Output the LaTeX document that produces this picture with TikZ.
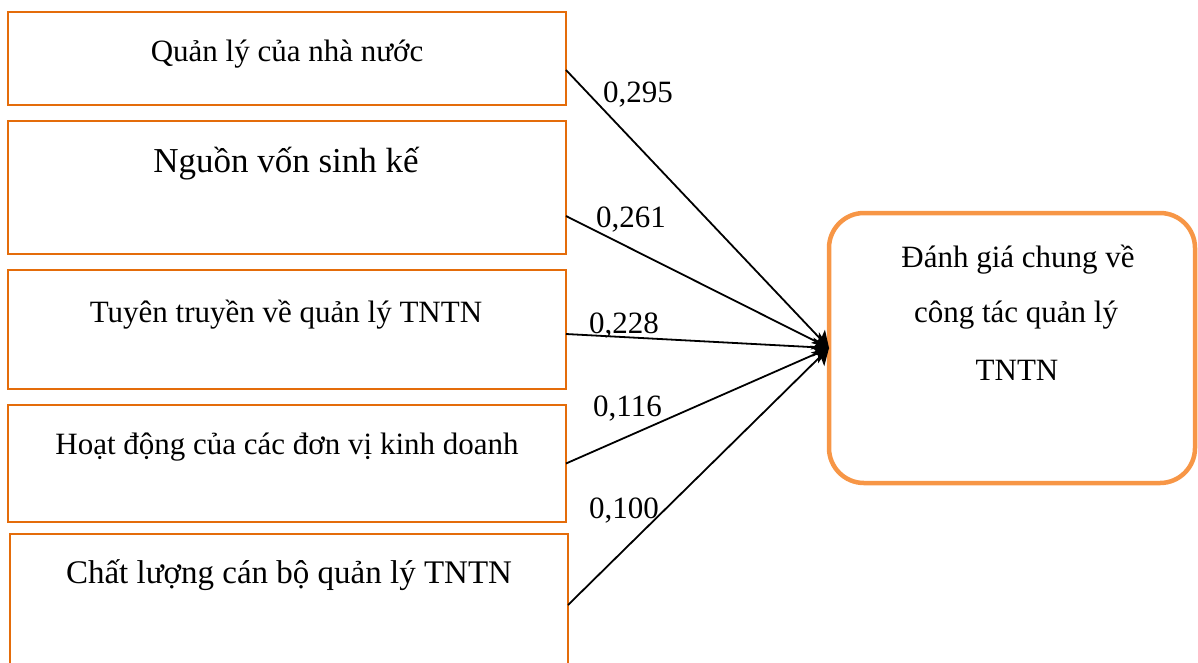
\documentclass[tikz,border=0pt]{standalone}
\usepackage{fontspec}
\setmainfont{Liberation Serif}
\usetikzlibrary{arrows.meta}
\definecolor{boxor}{HTML}{E46C0A}
\definecolor{tgtor}{HTML}{F79646}
\begin{document}
\begin{tikzpicture}[x=1pt,y=-1pt,
  factor/.style={draw=boxor,line width=2pt,rectangle,minimum width=558pt,inner sep=0pt,outer sep=0pt,anchor=north west},
  target/.style={draw=tgtor,line width=4.5pt,rectangle,rounded corners=35pt,minimum width=366pt,minimum height=270pt,inner sep=0pt,outer sep=0pt},
  txt/.style={inner sep=0pt,anchor=base,font=\fontsize{31}{37}\selectfont},
  coef/.style={inner sep=0pt,anchor=base west,font=\fontsize{31}{37}\selectfont},
  link/.style={line width=1.8pt,-{Stealth[length=16pt,width=19pt,inset=4pt]}}]
\useasboundingbox (0,0) rectangle (1198,662);
% factor boxes
\node[factor,minimum height=93pt]  (b1) at (8,12) {};
\node[factor,minimum height=133pt] (b2) at (8,121) {};
\node[factor,minimum height=119pt] (b3) at (8,270) {};
\node[factor,minimum height=117pt] (b4) at (8,405) {};
\node[factor,minimum height=142pt] (b5) at (10,534) {};
% target box
\node[target] (t) at (1012,348) {};
% texts in factor boxes
\node[txt] (tx1) at (287,61) {Quản lý của nhà nước};
\node[txt,font=\fontsize{35}{42}\selectfont] (tx2) at (286,172) {Nguồn vốn sinh kế};
\node[txt] (tx3) at (286,322) {Tuyên truyền về quản lý TNTN};
\node[txt] (tx4) at (287,454) {Hoạt động của các đơn vị kinh doanh};
\node[txt,font=\fontsize{33}{40}\selectfont] (tx5) at (289,583) {Chất lượng cán bộ quản lý TNTN};
% texts in target box
\node[txt] (tt1) at (1018,267) {Đánh giá chung về};
\node[txt] (tt2) at (1016,322) {công tác quản lý};
\node[txt] (tt3) at (1017,380) {TNTN};
% connectors
\draw[link] ([yshift=-11.5pt]b1.east) -- (t.west);
\draw[link] ([yshift=-28.5pt]b2.east) -- (t.west);
\draw[link] ([yshift=-4.5pt]b3.east) -- (t.west);
\draw[link] (b4.east) -- (t.west);
\draw[link] (b5.east) -- (t.west);
% coefficients
\node[coef] (c1) at (603,102) {0,295};
\node[coef] (c2) at (596,227) {0,261};
\node[coef] (c3) at (589,333) {0,228};
\node[coef] (c4) at (593,416) {0,116};
\node[coef] (c5) at (589,518) {0,100};
\end{tikzpicture}
\end{document}
